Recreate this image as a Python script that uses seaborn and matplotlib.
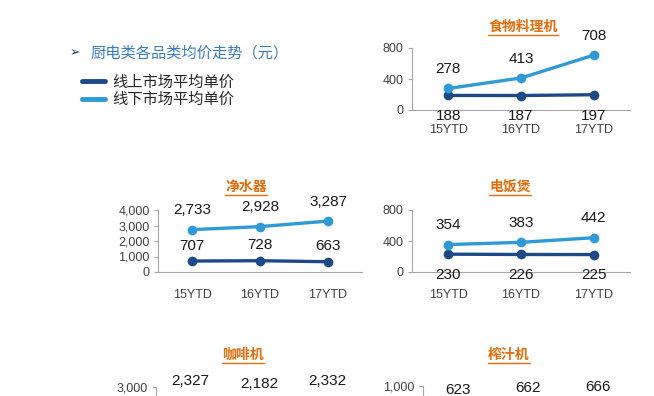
import pandas as pd
import seaborn as sns
import matplotlib.pyplot as plt
from matplotlib.lines import Line2D
from matplotlib.ticker import StrMethodFormatter

periods = ['15YTD', '16YTD', '17YTD']
series_names = ['线上市场平均单价', '线下市场平均单价']

# 食物料理机
food_online = [188, 187, 197]
food_offline = [278, 413, 708]
# 净水器
water_online = [707, 728, 663]
water_offline = [2733, 2928, 3287]
# 电饭煲
rice_online = [230, 226, 225]
rice_offline = [354, 383, 442]
# 咖啡机 / 榨汁机 (bottom row is cut off, only offline labels visible)
coffee_offline = [2327, 2182, 2332]
juicer_offline = [623, 662, 666]

dark = '#1D4A87'
light = '#2F9AD6'
orange = '#E46C0A'
grey = '#A6A6A6'

sns.set_style('white')
plt.rcParams['font.family'] = ['Liberation Sans', 'Noto Sans CJK SC', 'DejaVu Sans']

W, H = 654, 396
fig = plt.figure(figsize=(W / 100, H / 100), dpi=100)


def px_axes(left, right, top, bottom):
    return fig.add_axes([left / W, 1 - bottom / H, (right - left) / W, (bottom - top) / H])


def draw_panel(ax, online, offline, yticks, online_below, xpad, cut=False):
    frames = []
    palette = {}
    if online is not None:
        frames.append(pd.DataFrame({'period': periods, 'price': online, 'series': series_names[0]}))
        palette[series_names[0]] = dark
    frames.append(pd.DataFrame({'period': periods, 'price': offline, 'series': series_names[1]}))
    palette[series_names[1]] = light
    df = pd.concat(frames, ignore_index=True)
    sns.lineplot(data=df, x='period', y='price', hue='series', palette=palette,
                 marker='o', markersize=7, markeredgewidth=0, linewidth=2.4,
                 ax=ax, legend=False, clip_on=False)
    ax.set_xlim(-0.5, 2.5)
    ax.set_ylim(0, yticks[-1])
    # panels cut by the bottom edge only show their top tick
    ax.set_yticks(yticks[-1:] if cut else yticks)
    ax.yaxis.set_major_formatter(StrMethodFormatter('{x:,.0f}'))
    ax.set_xticks([-0.5, 0.5, 1.5, 2.5], minor=True)
    ax.tick_params(axis='x', which='major', length=0, pad=xpad, labelsize=9,
                   labelcolor='#404040', labelbottom=not cut)
    ax.tick_params(axis='x', which='minor', length=4, color=grey, width=0.8, direction='out')
    ax.tick_params(axis='y', length=3, color=grey, width=0.8, direction='out', pad=3,
                   labelsize=9, labelcolor='#404040', left=True)
    ax.set_xlabel('')
    ax.set_ylabel('')
    sns.despine(ax=ax)
    for side in ['left', 'bottom']:
        ax.spines[side].set_color(grey)
        ax.spines[side].set_linewidth(0.8)
    for i, v in enumerate(offline):
        ax.annotate(f'{v:,}', (i, v), xytext=(0, 14), textcoords='offset points',
                    ha='center', va='center', fontsize=11, color='#1a1a1a')
    if online is not None:
        off = -15 if online_below else 11
        for i, v in enumerate(online):
            ax.annotate(f'{v:,}', (i, v), xytext=(0, off), textcoords='offset points',
                        ha='center', va='center', fontsize=11, color='#1a1a1a')


ax1 = px_axes(412, 630, 48, 110)
draw_panel(ax1, food_online, food_offline, [0, 400, 800], True, 10)
ax2 = px_axes(158, 362, 210, 272)
draw_panel(ax2, water_online, water_offline, [0, 1000, 2000, 3000, 4000], False, 12)
ax3 = px_axes(412, 630, 210, 272)
draw_panel(ax3, rice_online, rice_offline, [0, 400, 800], True, 12)
ax4 = px_axes(156, 362, 387, 449)
draw_panel(ax4, None, coffee_offline, [0, 1000, 2000, 3000], False, 12, cut=True)
ax5 = px_axes(423, 633, 386, 448)
draw_panel(ax5, None, juicer_offline, [0, 500, 1000], False, 12, cut=True)

# panel titles (orange, underlined)
titles = [('食物料理机', 523, 27), ('净水器', 246, 187), ('电饭煲', 510, 187),
          ('咖啡机', 243, 355), ('榨汁机', 509, 355)]
title_texts = []
for name, x, y in titles:
    t = fig.text(x / W, 1 - y / H, name, color=orange, fontsize=10, fontweight='bold',
                 ha='center', va='center')
    title_texts.append(t)

# header and legend
fig.text(70 / W, 1 - 53 / H, '➢', color='#1F3C6E', fontsize=9, va='center')
fig.text(90 / W, 1 - 53 / H, '厨电类各品类均价走势（元）', color='#3A7DC0',
         fontsize=11, style='italic', va='center')
handles = [Line2D([], [], color=dark, lw=3.5), Line2D([], [], color=light, lw=3.5)]
fig.legend(handles, series_names, loc='center left', bbox_to_anchor=(82 / W, 1 - 91 / H),
           frameon=False, fontsize=11, handlelength=1.5, handletextpad=0.5,
           labelspacing=0.2, borderpad=0, borderaxespad=0, labelcolor='#262626')

fig.canvas.draw()
renderer = fig.canvas.get_renderer()
for t in title_texts:
    bb = t.get_window_extent(renderer)
    y = (bb.y0 - 1) / H
    fig.add_artist(Line2D([bb.x0 / W, bb.x1 / W], [y, y], color=orange, lw=1))

fig.savefig('out.png', dpi=100)
